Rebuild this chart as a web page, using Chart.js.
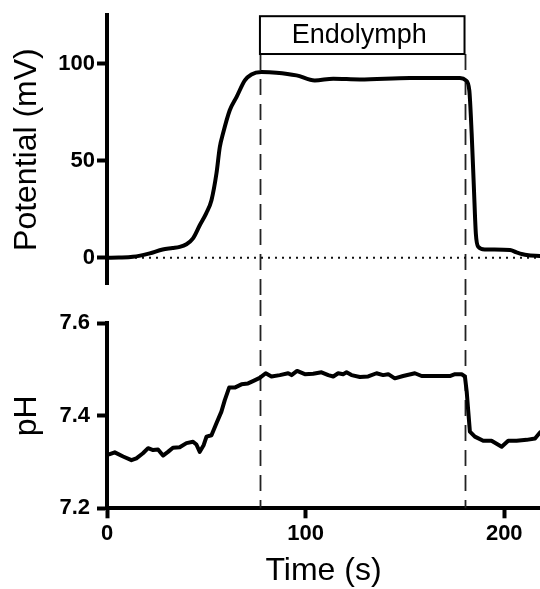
<!DOCTYPE html>
<html>
<head>
<meta charset="utf-8">
<script src="https://cdn.jsdelivr.net/npm/chart.js@4"></script>
<style>
html, body { margin: 0; padding: 0; background: #fff; overflow: hidden; }
#wrap { position: relative; width: 540px; height: 589px; }
.panel { position: absolute; left: 0; width: 540px; }
#topPanel { top: 0; height: 300px; }
#bottomPanel { top: 300px; height: 289px; }
</style>
</head>
<body>
<div id="wrap">
  <div class="panel" id="topPanel"><canvas id="potChart"></canvas></div>
  <div class="panel" id="bottomPanel"><canvas id="phChart"></canvas></div>
</div>
<script>
// time axis
const xMin = 0;
const xMax = 218;
const xTicks = [0, 100, 200];
const switchTimes = [77, 180];   // endolymph on / off
const boxLabel = 'Endolymph';

// potential trace (mV)
const potTicks = [0, 50, 100];
const timeP = [0, 6, 13, 21.5, 28, 33, 36.6, 40, 43.3, 46.7, 50, 52.6, 55.1, 56.8, 58.4, 61.8, 65.2, 69.4, 72.7, 77.8,
  85.3, 95.4, 104.6, 113.9, 127.3, 152.5, 177.7, 180.7, 182.4, 183.6, 184.7, 185.7, 186.9, 190.3, 202.9, 206.2, 211.3, 218];
const potential = [0, 0.1, 0.5, 2.3, 4.3, 5.0, 5.6, 7.0, 10, 16.8, 23, 29.7, 43.4, 57.1, 64, 76, 82.8, 91.4, 94.5, 95.7,
  95.4, 94, 91.4, 92.3, 91.9, 92.6, 92.6, 91.4, 86.3, 64, 36.5, 12.5, 5.7, 4.3, 4.0, 2.8, 1.4, 0.9];

// pH trace
const phTicks = [7.2, 7.4, 7.6];
const timePH = [0, 1.4, 3.9, 8.1, 12.3, 14.8, 18.1, 20.7, 23.2, 25.7, 28.2, 30.7, 33.2, 36.6, 40, 43.3, 45, 46.7, 48.7, 50.1,
  52.6, 55.1, 57.6, 59.3, 61.5, 64.3, 67.7, 71, 73.5, 76.9, 79.9, 82.8, 87, 91.2, 92.9, 95.7, 99.6, 103.8, 108, 111.4,
  113.9, 116.4, 118.9, 120.6, 123.1, 127.3, 131.5, 135.7, 139, 141.6, 144.9, 149.1, 155, 158.4, 163.4, 167.6, 172.6, 175.2, 178.5, 180.2,
  181.1, 181.9, 182.7, 185.2, 189.4, 193.6, 198.7, 202, 206.2, 211.3, 215.5, 218];
const pH = [7.317, 7.317, 7.321, 7.312, 7.304, 7.308, 7.319, 7.330, 7.326, 7.327, 7.314, 7.322, 7.331, 7.332, 7.341, 7.344, 7.338, 7.322, 7.337, 7.355,
  7.358, 7.384, 7.409, 7.434, 7.461, 7.461, 7.468, 7.470, 7.475, 7.482, 7.492, 7.485, 7.488, 7.492, 7.488, 7.497, 7.490, 7.491, 7.494, 7.488,
  7.485, 7.492, 7.490, 7.494, 7.488, 7.484, 7.485, 7.492, 7.488, 7.490, 7.481, 7.486, 7.492, 7.486, 7.486, 7.486, 7.486, 7.490, 7.490, 7.485,
  7.452, 7.409, 7.366, 7.355, 7.346, 7.346, 7.333, 7.346, 7.346, 7.348, 7.351, 7.364];

const FONT = '"Liberation Sans", Arial, Helvetica, sans-serif';

function toPoints(xs, ys) {
    return xs.map((x, i) => ({ x: x, y: ys[i] }));
}

// gemeinsame Achsen-Optionen (y)
function yAxis(min, max, tickList, title, labelPad) {
    return {
        type: 'linear',
        min: min,
        max: max,
        afterBuildTicks: s => { s.ticks = tickList.map(v => ({ value: v })); },
        afterFit: s => { s.width = 107; },
        grid: { drawOnChartArea: false, tickLength: 10, tickWidth: 4, tickColor: '#000' },
        border: { width: 4, color: '#000' },
        ticks: { color: '#000', padding: labelPad, font: { family: FONT, size: 22, weight: 'bold' } },
        title: {
            display: true, text: title, color: '#000',
            font: { family: FONT, size: 32, weight: 'normal' },
            padding: { top: 8, bottom: 0 }
        }
    };
}

// dashed switch lines + label box
const switchPlugin = {
    id: 'switchLines',
    beforeDatasetsDraw(chart, args, opts) {
        const ctx = chart.ctx;
        const xs = chart.scales.x;
        ctx.save();
        ctx.strokeStyle = '#222';
        ctx.lineWidth = 1.8;
        ctx.setLineDash([16, 9]);
        switchTimes.forEach(t => {
            const px = Math.round(xs.getPixelForValue(t)) + 0.5;
            let y1, y2;
            if (opts.top) {
                y1 = chart.scales.y.getPixelForValue(opts.boxBottom);
                y2 = chart.height;
            } else {
                y1 = 0;
                y2 = chart.chartArea.bottom;
            }
            ctx.beginPath();
            ctx.moveTo(px, y1);
            ctx.lineTo(px, y2);
            ctx.stroke();
        });
        ctx.setLineDash([]);
        if (opts.top) {
            const x1 = xs.getPixelForValue(switchTimes[0]);
            const x2 = xs.getPixelForValue(switchTimes[1]);
            const y1 = chart.scales.y.getPixelForValue(chart.scales.y.max);
            const y2 = chart.scales.y.getPixelForValue(opts.boxBottom);
            ctx.lineWidth = 2;
            ctx.strokeStyle = '#000';
            ctx.strokeRect(x1, y1 + 1, x2 - x1, y2 - y1 - 1);
            ctx.fillStyle = '#000';
            ctx.font = '27px ' + FONT;
            ctx.textAlign = 'center';
            ctx.textBaseline = 'middle';
            ctx.fillText(boxLabel, (x1 + x2) / 2 - 3, (y1 + y2) / 2 + 1);
        }
        ctx.restore();
    }
};

const traceStyle = {
    borderColor: '#000',
    borderWidth: 4,
    pointRadius: 0,
    borderJoinStyle: 'round',
    borderCapStyle: 'round',
    fill: false
};

// oberes Diagramm: Potential
new Chart(document.getElementById('potChart'), {
    type: 'line',
    data: {
        datasets: [
            Object.assign({ label: 'Potential', data: toPoints(timeP, potential), cubicInterpolationMode: 'monotone' }, traceStyle),
            {
                label: 'zero',
                data: [{ x: xMin, y: 0 }, { x: xMax, y: 0 }],
                borderColor: '#111',
                borderWidth: 2,
                borderDash: [2, 5],
                pointRadius: 0,
                fill: false
            }
        ]
    },
    options: {
        responsive: true,
        maintainAspectRatio: false,
        animation: false,
        events: [],
        layout: { padding: { top: 15, bottom: 16, left: 0, right: 0 } },
        plugins: {
            legend: { display: false },
            tooltip: { enabled: false },
            switchLines: { top: true, boxBottom: 105 }
        },
        scales: {
            x: { type: 'linear', min: xMin, max: xMax, display: false },
            y: yAxis(-13.5, 125, potTicks, 'Potential (mV)', 2)
        }
    },
    plugins: [switchPlugin]
});

// unteres Diagramm: pH
new Chart(document.getElementById('phChart'), {
    type: 'line',
    data: {
        datasets: [
            Object.assign({ label: 'pH', data: toPoints(timePH, pH), tension: 0 }, traceStyle)
        ]
    },
    options: {
        responsive: true,
        maintainAspectRatio: false,
        animation: false,
        events: [],
        layout: { padding: { top: 23.3, bottom: 0, left: 0, right: 0 } },
        plugins: {
            legend: { display: false },
            tooltip: { enabled: false },
            switchLines: { top: false }
        },
        scales: {
            x: {
                type: 'linear',
                min: xMin,
                max: xMax,
                afterBuildTicks: s => { s.ticks = xTicks.map(v => ({ value: v })); },
                afterFit: s => { s.height = 80.7; },
                grid: { drawOnChartArea: false, tickLength: 10, tickWidth: 4, tickColor: '#000' },
                border: { width: 4, color: '#000' },
                ticks: { color: '#000', padding: 2, maxRotation: 0, autoSkip: false, font: { family: FONT, size: 22, weight: 'bold' } },
                title: {
                    display: true, text: 'Time (s)', color: '#000',
                    font: { family: FONT, size: 32, weight: 'normal', lineHeight: 1.125 },
                    padding: { top: 0, bottom: 0 }
                }
            },
            y: yAxis(7.2, 7.6, phTicks, 'pH', 7)
        }
    },
    plugins: [switchPlugin]
});
</script>
</body>
</html>
